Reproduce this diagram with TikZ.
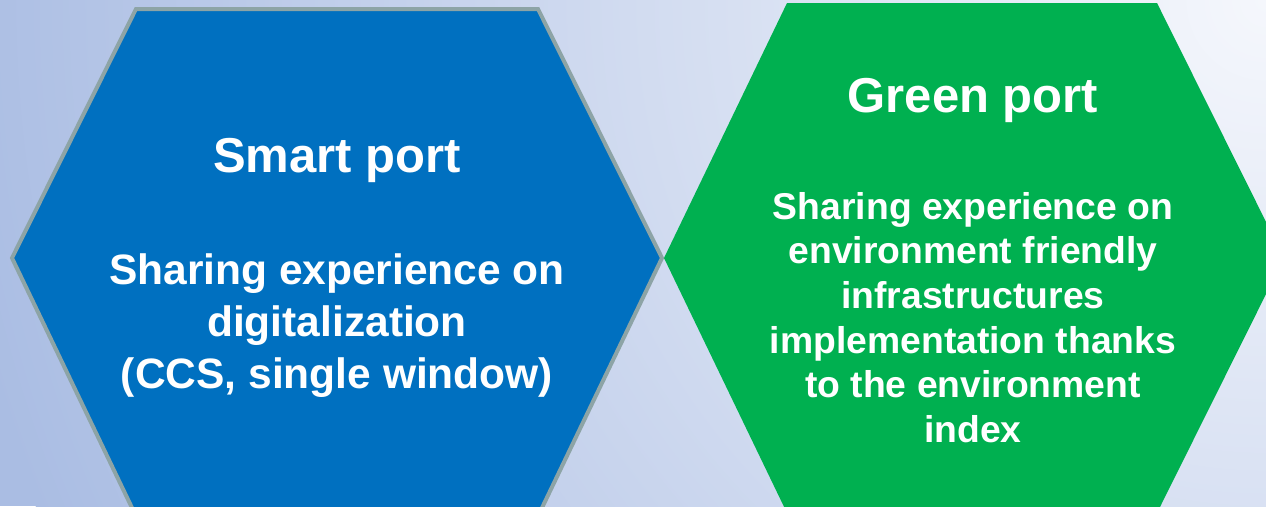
\documentclass[tikz,border=0pt]{standalone}
\usepackage{fontspec}
\setmainfont{Liberation Sans}
\definecolor{bgA}{RGB}{170,189,227}
\definecolor{bgB}{RGB}{245,247,252}
\definecolor{hexblue}{RGB}{0,112,192}
\definecolor{hexgreen}{RGB}{0,176,80}
\definecolor{hexedge}{RGB}{141,164,166}
\pgfdeclareradialshading{bgrad}{\pgfpoint{0bp}{0bp}}{color(0bp)=(bgB); color(25bp)=(bgA); color(50bp)=(bgA)}
\begin{document}
\begin{tikzpicture}[x=1pt,y=-1pt,
  titletext/.style={font=\bfseries\fontsize{49}{58}\selectfont, text=white, inner sep=0pt, anchor=base},
  bluebody/.style={font=\bfseries\fontsize{42.5}{52.3}\selectfont, text=white, inner sep=0pt, align=center, anchor=north},
  greenbody/.style={font=\bfseries\fontsize{37.3}{44.6}\selectfont, text=white, inner sep=0pt, align=center, anchor=north},
  bluehex/.style={fill=hexblue, draw=hexedge, line width=4pt, line join=miter},
  greenhex/.style={fill=hexgreen}]
\useasboundingbox (0,0) rectangle (1266,506);
\clip (0,0) rectangle (1266,506);
\fill[bgA] (0,0) rectangle (1266,506);
\shade[shading=bgrad] (1266,0) circle (1330);
% blue hexagon
\draw[bluehex] (136,9) -- (538,9) -- (662,258) -- (540,512) -- (134,512) -- (12,258) -- cycle;
% green hexagon
\fill[greenhex] (787,3) -- (1157,3) -- (1284,258) -- (1157,513) -- (787,513) -- (664,258) -- cycle;
% texts
\node[titletext] (smart) at (337,172) {Smart port};
\node[bluebody] (smartbody) at (337,253) {Sharing experience on\\digitalization\\(CCS, single window)};
\node[titletext] (green) at (973,112) {Green port};
\node[greenbody] (greenbody) at (973,192) {Sharing experience on\\environment friendly\\infrastructures\\implementation thanks\\to the environment\\index};
\end{tikzpicture}
\end{document}
